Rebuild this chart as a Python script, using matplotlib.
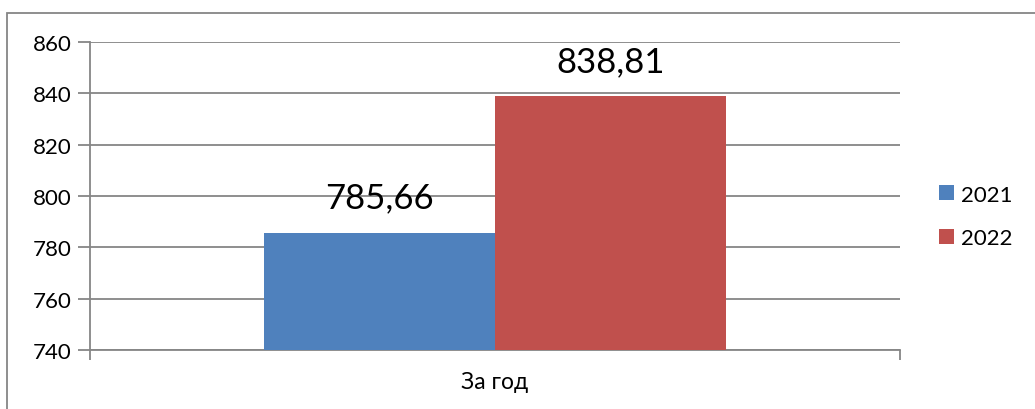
import matplotlib
matplotlib.use("Agg")
import matplotlib.pyplot as plt
from matplotlib.patches import Rectangle, Patch

# data
category = "За год"
series_names = ["2021", "2022"]
values = [785.66, 838.81]
value_labels = ["785,66", "838,81"]
colors = ["#4F81BD", "#C0504D"]
y_ticks = [740, 760, 780, 800, 820, 840, 860]

grid_color = "#868686"
plt.rcParams["font.family"] = ["Lato", "DejaVu Sans"]

fig = plt.figure(figsize=(10.35, 4.10), dpi=100)
ax = fig.add_axes([90 / 1035, 59 / 410, 810 / 1035, 308 / 410])

# outer chart border (left and top visible)
fig.patches.append(Rectangle((7 / 1035, -0.2), 1.2, 1.2 - 13.5 / 410,
                             transform=fig.transFigure, fill=False,
                             edgecolor=grid_color, linewidth=1.3, zorder=0))

bar_w = 1 / 3.5
offsets = [-bar_w / 2, bar_w / 2]
for off, v, c, lab in zip(offsets, values, colors, value_labels):
    ax.bar(off, v - y_ticks[0], bottom=y_ticks[0], width=bar_w, color=c, zorder=3)
    ax.text(off, v + 7.5, lab, ha="center", va="bottom", fontsize=25, color="black")

ax.set_xlim(-0.5, 0.5)
ax.set_ylim(y_ticks[0], y_ticks[-1])
ax.set_yticks(y_ticks)
ax.set_yticklabels([str(t) for t in y_ticks], fontsize=16)
ax.grid(axis="y", color=grid_color, linewidth=1.3, zorder=1)

ax.set_xticks([0])
ax.set_xticklabels([category], fontsize=16.5)
ax.set_xticks([-0.5, 0.5], minor=True)
ax.tick_params(axis="x", which="major", length=0, pad=15)
ax.tick_params(axis="x", which="minor", length=7, width=1.3, color=grid_color)
ax.tick_params(axis="y", length=9, width=1.3, color=grid_color, pad=4)

for s in ["top", "right"]:
    ax.spines[s].set_visible(False)
for s in ["left", "bottom"]:
    ax.spines[s].set_color(grid_color)
    ax.spines[s].set_linewidth(1.3)

handles = [Patch(facecolor=c, label=n) for c, n in zip(colors, series_names)]
fig.legend(handles=handles, loc="center left", bbox_to_anchor=(0.888, 0.47),
           frameon=False, fontsize=16, handlelength=0.65, handleheight=0.65,
           handletextpad=0.35, labelspacing=1.05)

fig.savefig("out.png", dpi=100)
